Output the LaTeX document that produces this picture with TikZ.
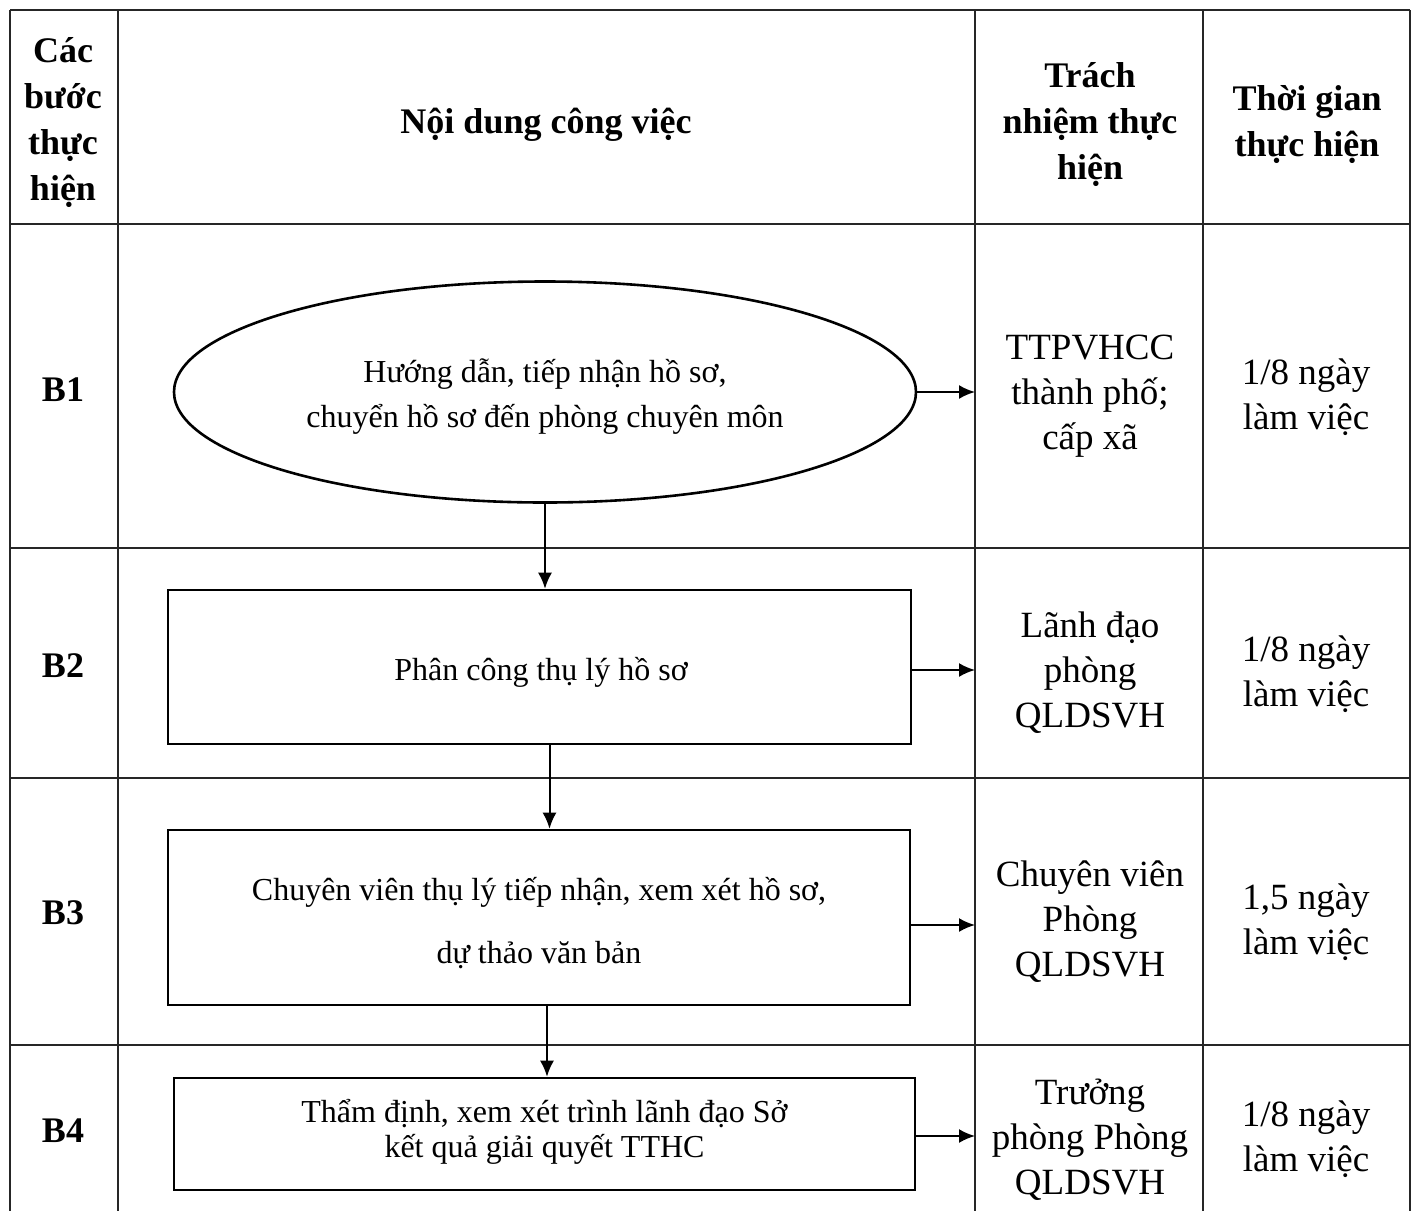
\documentclass[tikz,border=0pt]{standalone}
\usepackage{fontspec}
\setmainfont{Liberation Serif}
\usetikzlibrary{arrows.meta,shapes.geometric,calc}
\begin{document}
\begin{tikzpicture}[x=0.5pt,y=-0.5pt,
  grid/.style={line width=1pt,black!85},
  flowbox/.style={draw,line width=1.3pt,rectangle,inner sep=0pt},
  flowtext/.style={align=center,inner sep=0pt,font=\fontsize{16}{22.5}\selectfont},
  arr/.style={line width=1pt,-{Latex[length=8pt,width=7pt]}},
  hdr/.style={align=center,yshift=-2.25pt,font=\bfseries\fontsize{18}{23}\selectfont},
  cell/.style={align=center,yshift=-2.25pt,font=\fontsize{18.5}{22.5}\selectfont},
  steplbl/.style={font=\bfseries\fontsize{18}{22}\selectfont}]
\useasboundingbox[fill=white] (0,0) rectangle (1414,1211);
% grid
\coordinate (colA) at (118,0);
\coordinate (colB) at (975,0);
\coordinate (colC) at (1203,0);
\foreach \yy in {10,224,548,778,1045}{\draw[grid] (10,\yy) -- (1410,\yy);}
\foreach \xx in {10,118,975,1203,1410}{\draw[grid] (\xx,10) -- (\xx,1211);}
% header
\node[hdr] (h1) at (63,118) {Các\\bước\\thực\\hiện};
\node[hdr] (h2) at (546,120) {Nội dung công việc};
\node[hdr] (h3) at (1090,120) {Trách\\nhiệm thực\\hiện};
\node[hdr] (h4) at (1307,120) {Thời gian\\thực hiện};
% step labels
\node[steplbl] (s1) at (63,390) {B1};
\node[steplbl] (s2) at (63,666) {B2};
\node[steplbl] (s3) at (63,913) {B3};
\node[steplbl] (s4) at (63,1131) {B4};
% flow shapes
\node[draw,line width=1.3pt,ellipse,inner sep=0pt,minimum width=371pt,minimum height=110.5pt] (e1) at (545,392) {};
\node[flowtext] (e1t) at (545,397) {Hướng dẫn, tiếp nhận hồ sơ,\\chuyển hồ sơ đến phòng chuyên môn};
\node[flowbox,minimum width=371.5pt,minimum height=77pt] (b2) at (539.5,667) {};
\node[flowtext] (b2t) at (541,672) {Phân công thụ lý hồ sơ};
\node[flowbox,minimum width=371pt,minimum height=87.5pt] (b3) at (539,917.5) {};
\node[flowtext,font=\fontsize{16}{31.5}\selectfont] (b3t) at (539,923.5)
  {Chuyên viên thụ lý tiếp nhận, xem xét hồ sơ,\\dự thảo văn bản};
\node[flowbox,minimum width=370.5pt,minimum height=56pt] (b4) at (544.5,1134) {};
\node[flowtext,font=\fontsize{16}{17.5}\selectfont] (b4t) at (544.5,1131.5)
  {Thẩm định, xem xét trình lãnh đạo Sở\\kết quả giải quyết TTHC};
% vertical arrows
\draw[arr] (e1.south) -- (e1.south |- b2.north);
\draw[arr] ([xshift=5pt]b2.south) -- ([xshift=5pt]b2.south |- b3.north);
\draw[arr] ([xshift=4pt]b3.south) -- ([xshift=4pt]b3.south |- b4.north);
% horizontal arrows
\draw[arr] (e1.east) -- (e1.east -| colB);
\draw[arr] ([yshift=-1.5pt]b2.east) -- ([yshift=-1.5pt]b2.east -| colB);
\draw[arr] ([yshift=-3.75pt]b3.east) -- ([yshift=-3.75pt]b3.east -| colB);
\draw[arr] ([yshift=-1pt]b4.east) -- ([yshift=-1pt]b4.east -| colB);
% responsibility
\node[cell] (r1) at (1090,392) {TTPVHCC\\thành phố;\\cấp xã};
\node[cell] (r2) at (1090,668) {Lãnh đạo\\phòng\\QLDSVH};
\node[cell] (r3) at (1090,917) {Chuyên viên\\Phòng\\QLDSVH};
\node[cell] (r4) at (1090,1135) {Trưởng\\phòng Phòng\\QLDSVH};
% time
\node[cell] (t1) at (1306,393) {1/8 ngày\\làm việc};
\node[cell] (t2) at (1306,670) {1/8 ngày\\làm việc};
\node[cell] (t3) at (1306,918) {1,5 ngày\\làm việc};
\node[cell] (t4) at (1306,1135) {1/8 ngày\\làm việc};
\end{tikzpicture}
\end{document}
